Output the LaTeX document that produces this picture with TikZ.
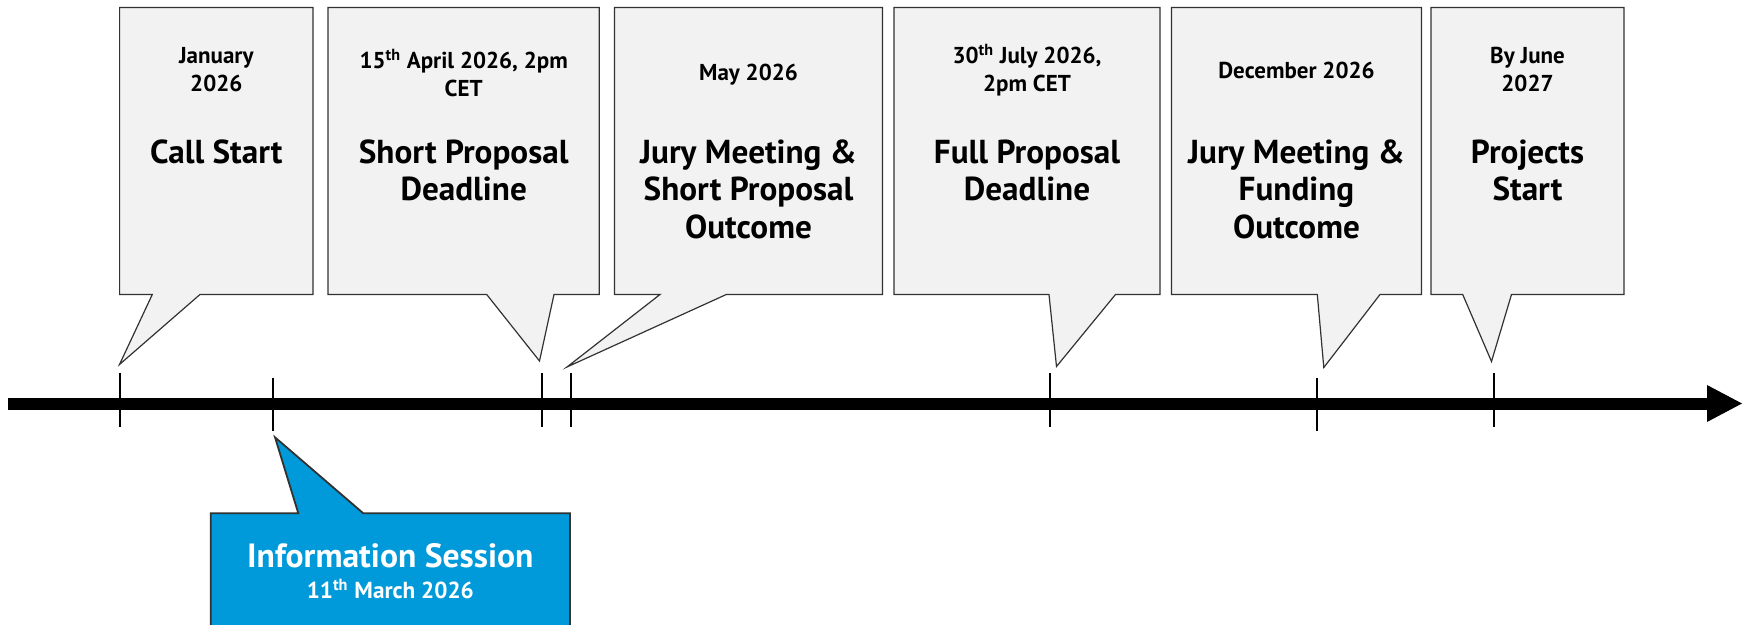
\documentclass[tikz,border=0pt]{standalone}
\usepackage{fontspec}
\setmainfont{PT Sans}
\definecolor{boxgray}{RGB}{242,242,242}
\definecolor{infoblue}{RGB}{0,153,218}
\definecolor{edgegray}{RGB}{50,50,50}
\tikzset{
  callshape/.style={fill=boxgray, draw=edgegray, line width=0.6pt, line join=miter},
  infoshape/.style={fill=infoblue, draw=edgegray, line width=0.9pt},
  datetext/.style={font=\bfseries\fontsize{11.5}{14}\selectfont, align=center, inner sep=0pt, anchor=base},
  titletext/.style={font=\bfseries\fontsize{16.6}{18.75}\selectfont, align=center, inner sep=0pt, anchor=base},
  infotitle/.style={font=\bfseries\fontsize{16.8}{17}\selectfont, text=white, inner sep=0pt, anchor=base},
  infodate/.style={font=\bfseries\fontsize{11.6}{14}\selectfont, text=white, inner sep=0pt, anchor=base},
  tickmark/.style={line width=1pt, draw=black},
  axisline/.style={line width=6pt, draw=black},
  axishead/.style={fill=black},
}
% left, right, top, bottom, base1, base2, tipx, tipy
\newcommand{\callbox}[8]{%
  \draw[callshape] (#1,#3) -- (#2,#3) -- (#2,#4) -- (#6,#4) -- (#7,#8) -- (#5,#4) -- (#1,#4) -- cycle;}
\begin{document}
\begin{tikzpicture}[x=0.5pt, y=-0.5pt]
\useasboundingbox (0,0) rectangle (1753,625);
\clip (0,0) rectangle (1753,625);

% callouts
\callbox{119.6}{313}{7.5}{294.5}{152.3}{200}{119.5}{364.5}
\callbox{328}{599.3}{7.5}{294.5}{486.7}{554}{539.5}{361}
\callbox{614.5}{882.5}{7.5}{294.5}{660}{726.3}{567}{367}
\callbox{894}{1160}{7.5}{294.5}{1049}{1115.5}{1056.5}{366.5}
\callbox{1171.5}{1421.5}{7.5}{294.5}{1317.3}{1380}{1323.8}{367.5}
\callbox{1431}{1624}{7.5}{294.5}{1462.7}{1511.5}{1491.5}{361.5}

% dates (base anchor = baseline of last line)
\node[datetext] (d1) at (216.3,92) {January\\2026};
\node[datetext] (d2) at (463.7,97) {15\textsuperscript{th} April 2026, 2pm\\CET};
\node[datetext] (d3) at (748.5,81) {May 2026};
\node[datetext] (d4) at (1027,92) {30\textsuperscript{th} July 2026,\\2pm CET};
\node[datetext] (d5) at (1296.5,78.5) {December 2026};
\node[datetext] (d6) at (1527.5,92) {By June\\2027};

% titles (base anchor = baseline of last line)
\node[titletext] (t1) at (216.3,163.5) {Call Start};
\node[titletext] (t2) at (463.7,201) {Short Proposal\\Deadline};
\node[titletext] (t3) at (748.5,238.5) {Jury Meeting \&\\Short Proposal\\Outcome};
\node[titletext] (t4) at (1027,201) {Full Proposal\\Deadline};
\node[titletext] (t5) at (1296.5,238.5) {Jury Meeting \&\\Funding\\Outcome};
\node[titletext] (t6) at (1527.5,201) {Projects\\Start};

% information session callout
\draw[infoshape] (210.7,513.3) -- (298.3,513.3) -- (275,437.3) -- (363.3,513.3) -- (570,513.3) -- (570,660) -- (210.7,660) -- cycle;
\node[infotitle] (it) at (390.3,567.3) {Information Session};
\node[infodate] (id) at (390.3,599) {11\textsuperscript{th} March 2026};

% axis
\coordinate (axstart) at (8,403.8);
\coordinate (axend) at (1708,403.8);
\draw[axisline] (axstart) -- (axend);
\fill[axishead] (1707,385) -- (1742,403.5) -- (1707,422) -- cycle;

% ticks
\draw[tickmark] (120,373) -- (120,427);
\draw[tickmark] (273.3,378) -- (273.3,431);
\draw[tickmark] (542.3,373) -- (542.3,427);
\draw[tickmark] (571.3,373) -- (571.3,427);
\draw[tickmark] (1049.5,373) -- (1049.5,427);
\draw[tickmark] (1316.5,378) -- (1316.5,431);
\draw[tickmark] (1494,373) -- (1494,427);
\end{tikzpicture}
\end{document}
